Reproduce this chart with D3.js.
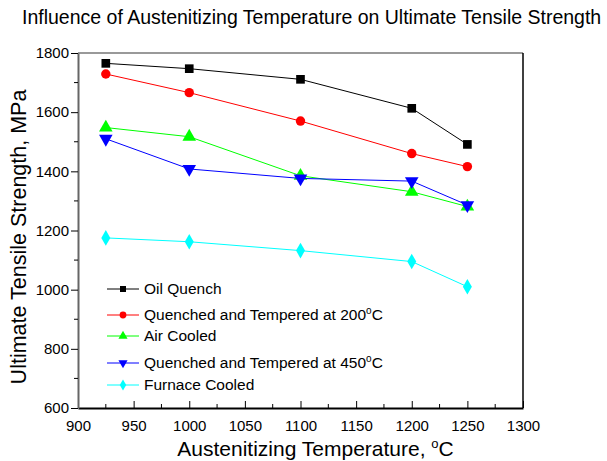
<!DOCTYPE html>
<html>
<head>
<meta charset="utf-8">
<script src="https://cdn.jsdelivr.net/npm/d3@7"></script>
<style>
  body { margin: 0; background: #fff; }
  svg { display: block; font-family: "Liberation Sans", Arial, sans-serif; }
</style>
</head>
<body>
<div id="chart"></div>
<script>

// austenitizing temperatures, deg C
var temps = [925, 1000, 1100, 1200, 1250];

var oilQuench = [1765, 1747, 1711, 1613, 1491];
var qt200 = [1729, 1666, 1570, 1460, 1416];
var airCooled = [1548, 1517, 1385, 1331, 1281];
var qt450 = [1510, 1408, 1376, 1367, 1286];
var furnaceCooled = [1175, 1162, 1132, 1095, 1010];

var seriesNames = ["Oil Quench", "Quenched and Tempered at 200", "Air Cooled", "Quenched and Tempered at 450", "Furnace Cooled"];
var seriesColors = ["#000000", "#ff0000", "#00ff00", "#0000ff", "#00ffff"];
var seriesSymbols = [d3.symbolSquare, d3.symbolCircle, d3.symbolTriangle, "down", d3.symbolDiamond];

var xTicks = [900, 950, 1000, 1050, 1100, 1150, 1200, 1250, 1300];
var yTicks = [600, 800, 1000, 1200, 1400, 1600, 1800];

var width = 607, height = 461;
var margin = {left: 78, right: 84, top: 53, bottom: 53};

var svg = d3.select("#chart").append("svg")
    .attr("width", width)
    .attr("height", height);

var x = d3.scaleLinear().domain([900, 1300]).range([margin.left, width - margin.right]);
var y = d3.scaleLinear().domain([600, 1800]).range([height - margin.bottom, margin.top]);

// title
svg.append("text")
    .attr("x", 22)
    .attr("y", 24)
    .style("font-size", "19.5px")
    .text("Influence of Austenitizing Temperature on Ultimate Tensile Strength");

// frame (top and right)
svg.append("line")
    .attr("x1", x(900)).attr("x2", x(1300))
    .attr("y1", y(1800)).attr("y2", y(1800))
    .attr("stroke", "#777").attr("stroke-width", 1.5);
svg.append("line")
    .attr("x1", x(1300)).attr("x2", x(1300))
    .attr("y1", y(1800)).attr("y2", y(600))
    .attr("stroke", "#000").attr("stroke-width", 1.5);

// x axis, ticks pointing in
var xAxis = d3.axisBottom(x)
    .tickValues(xTicks)
    .tickFormat(d3.format("d"))
    .tickSizeInner(-7)
    .tickSizeOuter(0)
    .tickPadding(12);
var gx = svg.append("g")
    .attr("transform", "translate(0," + y(600) + ")")
    .call(xAxis);
gx.select(".domain").attr("stroke-width", 2);
gx.selectAll("text").style("font-size", "15px");

var xMinor = d3.range(925, 1300, 50);
gx.selectAll(".minor")
    .data(xMinor)
    .enter()
    .append("line")
    .attr("x1", function (d) { return x(d); })
    .attr("x2", function (d) { return x(d); })
    .attr("y1", 0)
    .attr("y2", -4)
    .attr("stroke", "#000");

// y axis, ticks pointing out
var yAxis = d3.axisLeft(y)
    .tickValues(yTicks)
    .tickFormat(d3.format("d"))
    .tickSizeInner(7)
    .tickSizeOuter(0)
    .tickPadding(2);
var gy = svg.append("g")
    .attr("transform", "translate(" + x(900) + ",0)")
    .call(yAxis);
gy.select(".domain").attr("stroke", "#666").attr("stroke-width", 2);
gy.selectAll("text").style("font-size", "15px");

var yMinor = d3.range(700, 1800, 200);
gy.selectAll(".minor")
    .data(yMinor)
    .enter()
    .append("line")
    .attr("x1", 0)
    .attr("x2", -4)
    .attr("y1", function (d) { return y(d); })
    .attr("y2", function (d) { return y(d); })
    .attr("stroke", "#000");

// axis titles
svg.append("text")
    .attr("x", (x(900) + x(1300)) / 2 + 15)
    .attr("y", 456)
    .attr("text-anchor", "middle")
    .style("font-size", "21px")
    .text("Austenitizing Temperature, ")
    .append("tspan")
    .attr("dy", -8)
    .style("font-size", "13px")
    .text("o")
    .select(function () { return this.parentNode; })
    .append("tspan")
    .attr("dy", 8)
    .text("C");

svg.append("text")
    .attr("transform", "translate(26,237) rotate(-90)")
    .attr("text-anchor", "middle")
    .style("font-size", "21.5px")
    .text("Ultimate Tensile Strength, MPa");

var allSeries = [oilQuench, qt200, airCooled, qt450, furnaceCooled];

var line = d3.line()
    .x(function (d, i) { return x(temps[i]); })
    .y(function (d) { return y(d); });

function symbolPath(sym, size) {
    if (sym === "down") {
        return d3.symbol(d3.symbolTriangle, size)();
    }
    return d3.symbol(sym, size)();
}

function symbolTransform(sym, px, py) {
    if (sym === "down") {
        return "translate(" + px + "," + py + ") rotate(180)";
    }
    return "translate(" + px + "," + py + ")";
}

var markerSizes = [75, 70, 80, 80, 70];

allSeries.forEach(function (vals, k) {
    var g = svg.append("g");

    g.append("path")
        .datum(vals)
        .attr("fill", "none")
        .attr("stroke", seriesColors[k])
        .attr("stroke-width", 1)
        .attr("d", line);

    g.selectAll("path.pt")
        .data(vals)
        .enter()
        .append("path")
        .attr("class", "pt")
        .attr("d", symbolPath(seriesSymbols[k], markerSizes[k]))
        .attr("transform", function (d, i) {
            return symbolTransform(seriesSymbols[k], x(temps[i]), y(d));
        })
        .attr("fill", seriesColors[k]);
});

// legend
var legendRows = [294, 320, 341, 368, 390];
var legend = svg.append("g");

seriesNames.forEach(function (name, k) {
    var ly = legendRows[k] - 5;

    legend.append("line")
        .attr("x1", 107).attr("x2", 139)
        .attr("y1", ly).attr("y2", ly)
        .attr("stroke", seriesColors[k]);

    legend.append("path")
        .attr("d", symbolPath(seriesSymbols[k], 36))
        .attr("transform", symbolTransform(seriesSymbols[k], 123, ly))
        .attr("fill", seriesColors[k]);

    var t = legend.append("text")
        .attr("x", 144)
        .attr("y", legendRows[k])
        .style("font-size", "15.5px")
        .text(name);

    if (k === 1 || k === 3) {
        t.append("tspan").attr("dy", -6).style("font-size", "10px").text("o");
        t.append("tspan").attr("dy", 6).text("C");
    }
});

</script>
</body>
</html>
